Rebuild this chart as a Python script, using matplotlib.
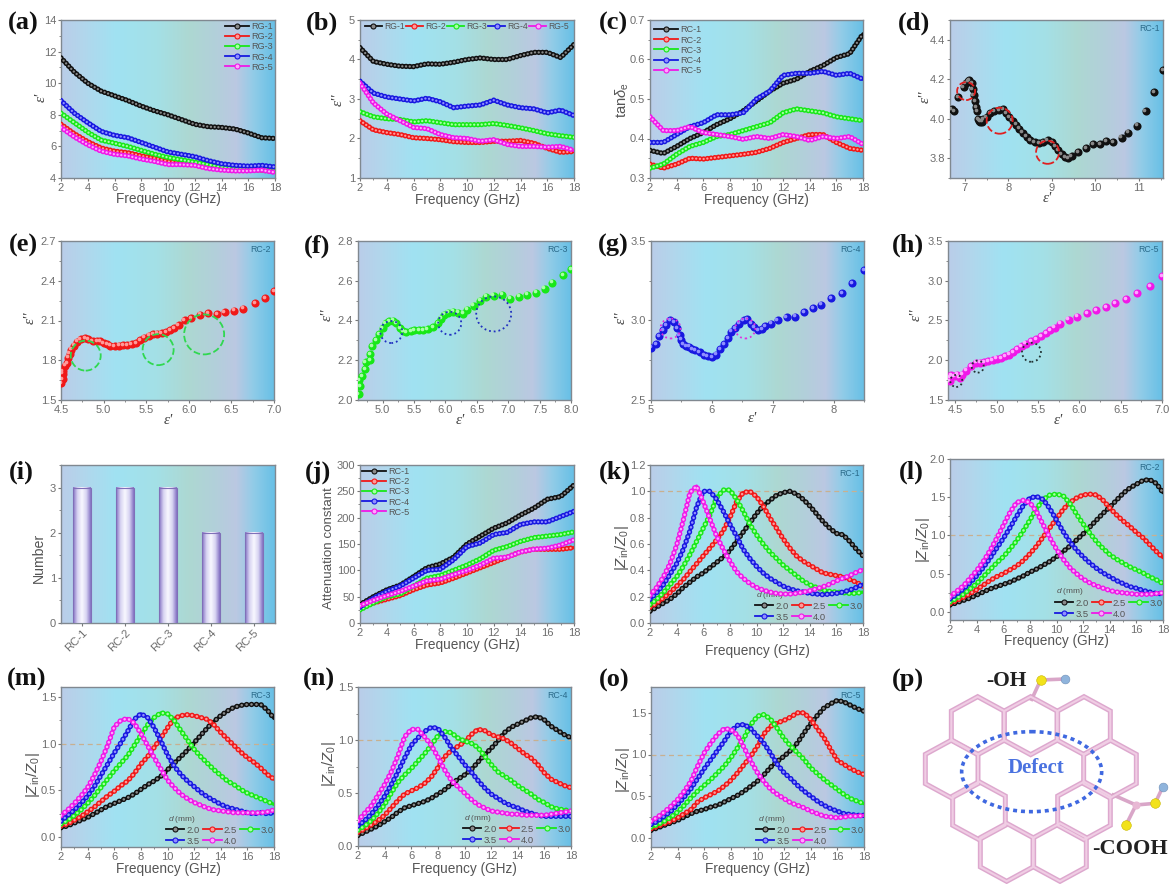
import numpy as np
import matplotlib
matplotlib.use('Agg')
import matplotlib.pyplot as plt
from matplotlib.colors import LinearSegmentedColormap
from matplotlib.patches import Polygon, Ellipse
from matplotlib.lines import Line2D
from matplotlib.ticker import AutoMinorLocator, MultipleLocator
from matplotlib.transforms import ScaledTranslation

plt.rcParams['font.family'] = ['Liberation Sans', 'DejaVu Sans']
plt.rcParams['mathtext.fontset'] = 'custom'
plt.rcParams['mathtext.rm'] = 'Liberation Sans'
plt.rcParams['mathtext.it'] = 'Liberation Sans:italic'
plt.rcParams['mathtext.bf'] = 'Liberation Sans:bold'

# ---------- data ----------
freq_1 = [2, 3, 4, 5, 6, 7, 8, 9, 10, 11, 12, 13, 14, 15, 16, 17, 18]
freq_05 = [2, 2.5, 3, 3.5, 4, 4.5, 5, 5.5, 6, 6.5, 7, 7.5, 8, 8.5, 9, 9.5, 10, 10.5, 11, 11.5, 12, 12.5, 13, 13.5,
           14, 14.5, 15, 15.5, 16, 16.5, 17, 17.5, 18]

a_1 = [11.6, 10.7, 10.0, 9.5, 9.2, 8.9, 8.55, 8.25, 8.0, 7.7, 7.4, 7.25, 7.2, 7.1, 6.85, 6.55, 6.5]
a_2 = [7.4, 6.8, 6.3, 5.9, 5.7, 5.6, 5.4, 5.25, 5.05, 4.95, 4.9, 4.7, 4.6, 4.5, 4.5, 4.5, 4.4]
a_3 = [8.1, 7.5, 6.9, 6.4, 6.2, 6.0, 5.75, 5.5, 5.3, 5.15, 5.0, 4.85, 4.7, 4.6, 4.55, 4.55, 4.45]
a_4 = [8.9, 8.1, 7.5, 6.95, 6.7, 6.55, 6.25, 5.95, 5.65, 5.5, 5.35, 5.1, 4.9, 4.8, 4.75, 4.8, 4.7]
a_5 = [7.2, 6.6, 6.1, 5.7, 5.5, 5.4, 5.2, 5.05, 4.85, 4.85, 4.8, 4.6, 4.5, 4.45, 4.45, 4.5, 4.35]

b_1 = [4.3, 3.95, 3.88, 3.83, 3.82, 3.89, 3.88, 3.93, 4.0, 4.04, 4.0, 4.0, 4.1, 4.18, 4.18, 4.05, 4.38]
b_2 = [2.45, 2.22, 2.15, 2.1, 2.02, 2.0, 1.97, 1.92, 1.9, 1.9, 1.93, 1.93, 1.95, 1.88, 1.75, 1.65, 1.67]
b_3 = [2.68, 2.55, 2.5, 2.48, 2.42, 2.45, 2.4, 2.35, 2.35, 2.35, 2.38, 2.33, 2.27, 2.2, 2.12, 2.07, 2.03]
b_4 = [3.45, 3.15, 3.05, 3.0, 2.95, 3.02, 2.93, 2.78, 2.82, 2.85, 2.97, 2.85, 2.78, 2.75, 2.65, 2.72, 2.58]
b_5 = [3.4, 2.9, 2.62, 2.45, 2.28, 2.25, 2.1, 2.02, 2.0, 1.93, 1.97, 1.85, 1.8, 1.8, 1.78, 1.8, 1.7]

c_1 = [.37, .362, .38, .40, .415, .435, .45, .47, .495, .52, .54, .55, .57, .585, .605, .615, .665]
c_2 = [.335, .325, .335, .35, .348, .352, .356, .36, .365, .375, .39, .40, .41, .41, .39, .375, .37]
c_3 = [.325, .335, .36, .38, .39, .405, .41, .42, .43, .44, .465, .475, .47, .465, .455, .45, .445]
c_4 = [.39, .39, .41, .43, .44, .46, .46, .465, .50, .52, .56, .565, .565, .57, .56, .565, .55]
c_5 = [.455, .42, .42, .43, .415, .41, .405, .398, .405, .40, .41, .405, .395, .405, .40, .405, .385]

j_1 = [35, 50, 63, 72, 88, 105, 112, 125, 150, 165, 180, 190, 205, 218, 235, 240, 262]
j_2 = [30, 38, 45, 52, 63, 72, 76, 85, 95, 105, 115, 125, 135, 140, 140, 140, 143]
j_3 = [25, 38, 50, 55, 70, 85, 90, 100, 110, 122, 138, 145, 155, 162, 165, 168, 173]
j_4 = [30, 47, 60, 70, 85, 100, 102, 120, 145, 152, 168, 172, 187, 192, 192, 202, 212]
j_5 = [33, 43, 52, 60, 70, 80, 83, 92, 100, 110, 123, 125, 135, 140, 142, 148, 158]

d_x = [6.7, 6.75, 6.85, 6.97, 7.02, 7.07, 7.1, 7.16, 7.18, 7.2, 7.23, 7.26, 7.28, 7.3, 7.33, 7.36, 7.39, 7.42, 7.5, 7.58,
       7.68, 7.78, 7.88, 7.95, 8.02, 8.1, 8.18, 8.25, 8.33, 8.42, 8.5, 8.6, 8.7, 8.8, 8.9, 9.0, 9.08, 9.15, 9.22, 9.3,
       9.38, 9.45, 9.6, 9.78, 9.95, 10.1, 10.25, 10.4, 10.6, 10.75, 10.95, 11.15, 11.35, 11.55]
d_y = [4.05, 4.04, 4.11, 4.16, 4.18, 4.19, 4.195, 4.18, 4.15, 4.12, 4.09, 4.06, 4.04, 4.0, 3.99, 3.985, 3.985, 4.0, 4.01, 4.03,
       4.04, 4.045, 4.05, 4.03, 4.01, 3.99, 3.97, 3.95, 3.93, 3.91, 3.89, 3.88, 3.875, 3.88, 3.89, 3.88, 3.86, 3.84, 3.82, 3.805,
       3.8, 3.81, 3.83, 3.85, 3.87, 3.87, 3.885, 3.88, 3.905, 3.93, 3.965, 4.04, 4.135, 4.245]
e_x = [4.5, 4.52, 4.52, 4.52, 4.55, 4.57, 4.58, 4.6, 4.62, 4.65, 4.69, 4.73, 4.78, 4.82, 4.87, 4.92, 4.96, 5.0, 5.04, 5.08,
       5.13, 5.18, 5.23, 5.28, 5.33, 5.38, 5.43, 5.48, 5.53, 5.58, 5.63, 5.68, 5.73, 5.78, 5.83, 5.88, 5.95, 6.03, 6.13, 6.23,
       6.33, 6.42, 6.53, 6.64, 6.78, 6.9, 7.0]
e_y = [1.63, 1.66, 1.70, 1.72, 1.76, 1.78, 1.82, 1.85, 1.88, 1.91, 1.94, 1.96, 1.965, 1.96, 1.945, 1.945, 1.945, 1.93, 1.92, 1.91,
       1.905, 1.91, 1.915, 1.915, 1.92, 1.93, 1.95, 1.97, 1.985, 1.995, 2.0, 2.005, 2.01, 2.025, 2.045, 2.065, 2.1, 2.12, 2.145, 2.155,
       2.15, 2.165, 2.175, 2.19, 2.23, 2.27, 2.32]
f_x = [4.62, 4.64, 4.63, 4.68, 4.72, 4.73, 4.8, 4.8, 4.84, 4.9, 4.95, 5.0, 5.05, 5.1, 5.17, 5.22, 5.28, 5.33, 5.38, 5.45,
       5.5, 5.58, 5.65, 5.72, 5.8, 5.88, 5.93, 5.98, 6.05, 6.12, 6.2, 6.28, 6.35, 6.45, 6.55, 6.65, 6.77, 6.9, 7.03, 7.17,
       7.3, 7.44, 7.58, 7.7, 7.87, 8.0]
f_y = [2.03, 2.07, 2.1, 2.12, 2.155, 2.19, 2.2, 2.23, 2.27, 2.3, 2.33, 2.36, 2.385, 2.395, 2.4, 2.385, 2.36, 2.345, 2.34, 2.345,
       2.35, 2.35, 2.35, 2.355, 2.365, 2.385, 2.41, 2.43, 2.44, 2.445, 2.44, 2.435, 2.455, 2.475, 2.5, 2.52, 2.525, 2.53, 2.51, 2.52,
       2.53, 2.54, 2.56, 2.59, 2.63, 2.66]
g_x = [5.0, 5.08, 5.13, 5.2, 5.25, 5.31, 5.38, 5.43, 5.47, 5.49, 5.53, 5.58, 5.63, 5.68, 5.73, 5.8, 5.87, 5.93, 6.0, 6.07,
       6.14, 6.2, 6.27, 6.32, 6.38, 6.45, 6.52, 6.58, 6.65, 6.7, 6.76, 6.82, 6.88, 6.97, 7.08, 7.23, 7.37, 7.52, 7.67, 7.8,
       7.96, 8.14, 8.31, 8.5]
g_y = [2.83, 2.85, 2.9, 2.94, 2.97, 3.0, 2.99, 2.95, 2.91, 2.88, 2.85, 2.84, 2.835, 2.82, 2.815, 2.8, 2.78, 2.775, 2.77, 2.785,
       2.82, 2.85, 2.89, 2.93, 2.95, 2.98, 3.0, 3.01, 2.98, 2.96, 2.94, 2.945, 2.965, 2.98, 3.0, 3.02, 3.025, 3.055, 3.08, 3.1,
       3.14, 3.17, 3.235, 3.315]
h_x = [4.43, 4.44, 4.45, 4.49, 4.52, 4.55, 4.58, 4.63, 4.69, 4.75, 4.8, 4.85, 4.9, 4.95, 5.0, 5.05, 5.1, 5.15, 5.2, 5.25,
       5.3, 5.35, 5.42, 5.48, 5.54, 5.6, 5.65, 5.7, 5.77, 5.87, 5.97, 6.09, 6.2, 6.32, 6.43, 6.57, 6.7, 6.86, 7.0]
h_y = [1.74, 1.78, 1.81, 1.8, 1.82, 1.78, 1.82, 1.87, 1.93, 1.97, 1.97, 1.98, 1.99, 2.0, 2.02, 2.03, 2.05, 2.07, 2.1, 2.14,
       2.18, 2.21, 2.24, 2.27, 2.3, 2.34, 2.38, 2.41, 2.46, 2.51, 2.55, 2.59, 2.63, 2.67, 2.72, 2.77, 2.84, 2.93, 3.06]

i_names = ['RC-1', 'RC-2', 'RC-3', 'RC-4', 'RC-5']
i_number = [3, 3, 3, 2, 2]

k_20 = [.09, .12, .15, .18, .22, .27, .31, .35, .38, .42, .46, .50, .55, .62, .69, .76, .83, .89, .93, .97, .99, 1.0, .98, .94, .89, .83, .77, .72, .68, .67, .62, .56, .51]
k_25 = [.12, .15, .19, .23, .28, .33, .39, .45, .51, .57, .63, .70, .80, .92, .99, 1.0, .96, .89, .80, .72, .64, .57, .51, .47, .44, .41, .38, .37, .36, .35, .33, .31, .28]
k_30 = [.14, .18, .23, .29, .35, .43, .52, .62, .72, .82, .95, 1.01, 1.01, .94, .85, .75, .67, .6, .54, .49, .44, .4, .36, .32, .29, .27, .25, .24, .235, .23, .225, .225, .235]
k_35 = [.18, .23, .29, .37, .45, .56, .70, .88, 1.0, 1.0, .94, .85, .75, .66, .56, .49, .43, .38, .34, .31, .28, .26, .245, .235, .225, .22, .215, .22, .225, .235, .25, .27, .295]
k_40 = [.21, .27, .35, .45, .59, .78, .99, 1.04, .92, .79, .66, .56, .47, .39, .34, .30, .27, .25, .235, .225, .22, .22, .225, .235, .245, .26, .275, .295, .32, .34, .36, .385, .405]

l_20 = [.09, .12, .15, .18, .22, .26, .30, .33, .36, .39, .43, .47, .52, .56, .61, .66, .72, .79, .86, .94, 1.02, 1.11, 1.2, 1.29, 1.37, 1.46, 1.55, 1.62, 1.67, 1.72, 1.73, 1.68, 1.56]
l_25 = [.11, .15, .19, .24, .29, .35, .41, .46, .5, .55, .6, .67, .76, .86, .98, 1.1, 1.22, 1.34, 1.43, 1.49, 1.53, 1.54, 1.53, 1.46, 1.36, 1.27, 1.19, 1.12, 1.04, .97, .88, .79, .71]
l_30 = [.13, .18, .23, .3, .37, .46, .55, .64, .72, .82, .93, 1.06, 1.2, 1.35, 1.47, 1.53, 1.54, 1.52, 1.42, 1.28, 1.15, 1.03, .92, .83, .75, .69, .64, .59, .55, .51, .46, .42, .37]
l_35 = [.17, .23, .3, .38, .47, .58, .7, .83, .96, 1.1, 1.25, 1.39, 1.49, 1.51, 1.47, 1.35, 1.2, 1.05, .92, .81, .72, .64, .57, .51, .46, .41, .37, .33, .31, .28, .26, .24, .24]
l_40 = [.2, .27, .34, .44, .54, .66, .8, .96, 1.13, 1.3, 1.43, 1.46, 1.43, 1.31, 1.14, .97, .82, .69, .58, .5, .43, .38, .34, .31, .28, .26, .25, .24, .23, .23, .23, .24, .25]

m_20 = [.1, .12, .15, .18, .21, .25, .29, .33, .36, .39, .42, .46, .51, .56, .6, .65, .72, .79, .86, .93, 1.01, 1.09, 1.17, 1.24, 1.3, 1.35, 1.39, 1.41, 1.42, 1.42, 1.42, 1.36, 1.27]
m_25 = [.12, .14, .18, .22, .27, .32, .38, .44, .49, .55, .6, .68, .78, .86, .96, 1.06, 1.17, 1.27, 1.3, 1.31, 1.3, 1.28, 1.26, 1.2, 1.12, 1.05, .98, .91, .85, .8, .74, .67, .62]
m_30 = [.14, .18, .23, .29, .36, .44, .53, .62, .71, .79, .87, .98, 1.09, 1.2, 1.28, 1.33, 1.32, 1.25, 1.14, 1.04, .94, .86, .79, .72, .66, .6, .56, .51, .47, .44, .41, .38, .35]
m_35 = [.17, .23, .29, .36, .44, .54, .66, .78, .9, 1.01, 1.13, 1.26, 1.32, 1.28, 1.17, 1.03, .88, .76, .67, .6, .54, .48, .43, .39, .35, .32, .3, .28, .26, .25, .26, .25, .26]
m_40 = [.23, .29, .36, .44, .53, .66, .81, .98, 1.18, 1.25, 1.27, 1.22, 1.11, .98, .85, .73, .61, .53, .46, .41, .37, .34, .31, .29, .28, .27, .26, .26, .26, .26, .26, .27, .29]

n_20 = [.1, .13, .16, .19, .23, .27, .32, .36, .38, .4, .42, .45, .49, .53, .58, .63, .67, .72, .79, .86, .92, .99, 1.07, 1.12, 1.15, 1.18, 1.21, 1.22, 1.19, 1.13, 1.09, 1.05, 1.02]
n_25 = [.13, .16, .2, .24, .29, .36, .43, .49, .52, .55, .59, .65, .74, .84, .9, .94, .98, 1.05, 1.1, 1.09, 1.05, 1.03, 1.01, .97, .92, .87, .83, .77, .69, .63, .6, .57, .55]
n_30 = [.15, .19, .24, .31, .39, .5, .6, .67, .73, .8, .87, .95, 1.04, 1.08, 1.07, 1.02, .99, .97, .93, .85, .77, .7, .66, .62, .57, .53, .49, .44, .41, .37, .35, .34, .33]
n_35 = [.19, .24, .3, .38, .47, .58, .7, .83, .95, 1.02, 1.08, 1.12, 1.11, 1.03, .93, .85, .77, .7, .62, .55, .49, .45, .41, .38, .36, .33, .31, .29, .28, .28, .28, .28, .28]
n_40 = [.24, .31, .38, .48, .58, .7, .85, 1.03, 1.1, 1.1, 1.03, .95, .84, .72, .62, .56, .5, .44, .39, .36, .33, .32, .31, .3, .3, .29, .29, .29, .29, .3, .31, .32, .33]

o_20 = [.09, .12, .15, .18, .21, .25, .29, .32, .34, .37, .39, .43, .47, .51, .56, .62, .68, .76, .85, .92, .98, 1.05, 1.14, 1.26, 1.37, 1.47, 1.56, 1.61, 1.65, 1.63, 1.59, 1.55, 1.52]
o_25 = [.11, .14, .17, .2, .24, .29, .34, .43, .48, .52, .56, .62, .69, .78, .88, .98, 1.1, 1.25, 1.34, 1.38, 1.41, 1.45, 1.5, 1.5, 1.42, 1.31, 1.2, 1.06, .93, .88, .83, .79, .76]
o_30 = [.13, .16, .2, .25, .31, .39, .48, .56, .63, .7, .78, .86, .96, 1.08, 1.2, 1.36, 1.46, 1.48, 1.42, 1.31, 1.19, 1.1, 1.02, .94, .84, .77, .7, .64, .58, .52, .47, .44, .41]
o_35 = [.16, .2, .26, .32, .4, .49, .59, .71, .83, .94, 1.05, 1.16, 1.28, 1.35, 1.36, 1.31, 1.22, 1.13, 1.01, .88, .78, .71, .63, .56, .5, .44, .39, .35, .32, .29, .28, .27, .27]
o_40 = [.2, .25, .31, .38, .46, .56, .68, .86, 1.02, 1.14, 1.24, 1.31, 1.3, 1.23, 1.08, .92, .78, .67, .58, .52, .47, .42, .39, .36, .32, .29, .26, .25, .24, .25, .26, .26, .27]

d_labels = ['2.0', '2.5', '3.0', '3.5', '4.0']
rg_labels = ['RG-1', 'RG-2', 'RG-3', 'RG-4', 'RG-5']
rc_labels = ['RC-1', 'RC-2', 'RC-3', 'RC-4', 'RC-5']

# ---------- style ----------
W, H = 1174, 884
COLS = ['#111111', '#F01818', '#18E818', '#1818E0', '#F018E8']
LIGHT = ['#8A8A8A', '#FF9A9A', '#A8FFA8', '#9090FF', '#FFA8FF']
GREY = '#6E6E6E'
bg = LinearSegmentedColormap.from_list('bg', [(0, '#BACDE9'), (.1, '#B2D6EC'), (.26, '#A0E2F2'), (.45, '#A4E0E6'),
                                              (.6, '#ADD8D2'), (.72, '#B2D0DA'), (.82, '#BBC8E2'), (.9, '#92CCE8'), (1, '#68C0E6')])
fig = plt.figure(figsize=(W / 100, H / 100), dpi=100)


def make_ax(l, t, r, b, xlim, ylim, xmaj=2, ymaj=None):
    ax = fig.add_axes([l / W, 1 - b / H, (r - l) / W, (b - t) / H])
    ax.imshow(np.linspace(0, 1, 256)[None, :], cmap=bg, extent=(0, 1, 0, 1), transform=ax.transAxes,
              aspect='auto', zorder=0, interpolation='bilinear')
    ax.set_xlim(*xlim)
    ax.set_ylim(*ylim)
    ax.xaxis.set_major_locator(MultipleLocator(xmaj))
    if ymaj:
        ax.yaxis.set_major_locator(MultipleLocator(ymaj))
    ax.xaxis.set_minor_locator(AutoMinorLocator(2))
    ax.yaxis.set_minor_locator(AutoMinorLocator(2))
    ax.tick_params(which='major', length=2.5, width=.8, color='#777777', labelcolor=GREY, labelsize=8, pad=1)
    ax.tick_params(which='minor', length=1.5, width=.6, color='#777777')
    for s in ax.spines.values():
        s.set_color('#808890')
        s.set_linewidth(1.0)
    return ax


def put(x, y, s, **kw):
    return fig.text(x / W, 1 - y / H, s, ha='center', va='center', **kw)


def panel(x, y, s):
    put(x, y, s, family='Liberation Serif', weight='bold', fontsize=19, color='#111111')


def xlab(x, y):
    put(x, y, 'Frequency (GHz)', fontsize=9.8, color='#555555')


def eps(x, y, s, rot=0):
    put(x, y, s, family='Liberation Serif', style='italic', fontsize=11, color='#444444', rotation=rot)


def ylab(x, y, s, size=10.2):
    put(x, y, s, fontsize=size, color='#555555', rotation=90)


def beads(ax, x, y, i, zo, wide=3.9, gap=0.68, lw_in=1.7):
    ax.plot(x, y, color=COLS[i], lw=wide * .6, zorder=zo, solid_capstyle='round')
    ax.plot(x, y, color=COLS[i], lw=wide, ls=(0, (0.01, gap)), dash_capstyle='round', zorder=zo)
    ax.plot(x, y, color=LIGHT[i], lw=lw_in, ls=(0, (0.01, (gap + .01) * wide / lw_in - .01)), dash_capstyle='round', zorder=zo)


def handles(labels, ms=3.6):
    return [Line2D([], [], color=COLS[i], lw=1.3, marker='o', ms=ms, mfc=LIGHT[i], mec=COLS[i], mew=.8)
            for i in range(len(labels))]


def band_panel(ax, series, labels, size=6.6, hl=2.3, **leg):
    for i, v in enumerate(series):
        beads(ax, freq_1, v, i, 3 + i)
    ax.legend(handles(labels), labels, frameon=False, fontsize=size, labelcolor='#555555', handlelength=hl,
              handletextpad=.25, labelspacing=.12, borderpad=.15, borderaxespad=.1, **leg)


def z_panel(ax, series, tag, tx, ty):
    ax.axhline(1.0, color='#C8B090', lw=.9, ls=(0, (4, 3)), zorder=1)
    for i, v in enumerate(series):
        beads(ax, freq_05, v, i, 3 + i, wide=3.9, gap=.9, lw_in=1.9)
    ax.text(.985, .975, tag, transform=ax.transAxes, ha='right', va='top', fontsize=6.3, color='#2A6A8A')
    order = [0, 3, 1, 4, 2]
    h = handles(d_labels)
    ax.legend([h[n] for n in order], [d_labels[n] for n in order], ncol=3, frameon=False, fontsize=6.8,
              labelcolor='#555555', handlelength=2.0, handletextpad=.2, labelspacing=.2, columnspacing=.35,
              loc='lower right', bbox_to_anchor=(1.005, .003), borderpad=.1, borderaxespad=0)
    ax.text(tx, ty, r'$\mathit{d}$ (mm)', transform=ax.transAxes, fontsize=6, color='#555555')


def sphere_panel(ax, x, y, i, tag, circles, cc, ls):
    ax.scatter(x, y, s=34, color=COLS[i], zorder=4, linewidths=0, clip_on=True)
    ax.scatter(x, y, s=7, color=LIGHT[i], zorder=5, linewidths=0,
               transform=ax.transData + ScaledTranslation(-.9 / 72, .9 / 72, fig.dpi_scale_trans))
    for cx, cy, dia in circles:
        ax.scatter([cx], [cy], s=(dia * .72) ** 2, facecolors='none', edgecolors=cc, linewidths=1.3, linestyles=ls, zorder=6)
    ax.text(.985, .975, tag, transform=ax.transAxes, ha='right', va='top', fontsize=6.3, color='#2A6A8A')


# ---------- (a) (b) (c) ----------
ax = make_ax(61, 20, 275, 178, (2, 18), (4, 14), ymaj=2)
band_panel(ax, [a_1, a_2, a_3, a_4, a_5], rg_labels, hl=2.6, loc='upper right')
panel(23, 23, '(a)'); xlab(168, 199); eps(41, 97, "ε'", 90)

ax = make_ax(360, 20, 574, 178, (2, 18), (1, 5), ymaj=1)
band_panel(ax, [b_1, b_2, b_3, b_4, b_5], rg_labels, size=6.2, hl=2.0, loc='upper center', ncol=5, columnspacing=.12,
           bbox_to_anchor=(.5, 1.0))
panel(322, 23, '(b)'); xlab(467, 200); eps(338, 100, "ε''", 90)

ax = make_ax(650, 20, 863, 178, (2, 18), (.3, .7), ymaj=.1)
band_panel(ax, [c_1, c_2, c_3, c_4, c_5], rc_labels, hl=2.6, loc='upper left', bbox_to_anchor=(.01, .98))
panel(613, 23, '(c)'); xlab(756, 200)
ylab(622, 100, r'tan$\mathit{\delta}_{\mathrm{e}}$', 10.6)

# ---------- (d)-(h) ----------
ax = make_ax(950, 20, 1163, 178, (6.66, 11.55), (3.7, 4.5), xmaj=1, ymaj=.2)
sphere_panel(ax, d_x, d_y, 0, 'RC-1', [(7.03, 4.14, 18), (7.8, 3.99, 26), (8.9, 3.83, 23)], '#E02020', '--')
panel(914, 23, '(d)'); eps(1047, 199, "ε'"); eps(925, 97, "ε''", 90)

ax = make_ax(61, 241, 274, 400, (4.5, 7), (1.5, 2.7), xmaj=.5, ymaj=.3)
sphere_panel(ax, e_x, e_y, 1, 'RC-2', [(4.79, 1.835, 30), (5.64, 1.88, 31), (6.18, 1.995, 40)], '#30D850', '--')
panel(23, 245, '(e)'); eps(168, 421, "ε'"); eps(30, 318, "ε''", 90)

ax = make_ax(358, 241, 571, 400, (4.61, 8), (2.0, 2.8), xmaj=.5, ymaj=.2)
sphere_panel(ax, f_x, f_y, 2, 'RC-3', [(5.14, 2.342, 22), (6.07, 2.386, 23), (6.77, 2.433, 35)], '#2030C0', ':')
panel(317, 246, '(f)'); eps(460, 421, "ε'"); eps(327, 315, "ε''", 90)

ax = make_ax(651, 241, 864, 400, (5, 8.5), (2.5, 3.5), xmaj=1, ymaj=.5)
sphere_panel(ax, g_x, g_y, 3, 'RC-4', [(5.32, 2.95, 20), (6.55, 2.95, 20)], '#E030E0', ':')
panel(613, 245, '(g)'); eps(752, 419, "ε'"); eps(621, 318, "ε''", 90)

ax = make_ax(948, 241, 1162, 400, (4.41, 7), (1.5, 3.5), xmaj=.5, ymaj=.5)
sphere_panel(ax, h_x, h_y, 4, 'RC-5', [(4.51, 1.74, 12), (4.77, 1.92, 12), (5.42, 2.1, 19)], '#203030', ':')
panel(908, 245, '(h)'); eps(1058, 421, "ε'"); eps(916, 315, "ε''", 90)

# ---------- (i) ----------
ax = make_ax(61, 465, 275, 623, (-.5, 4.5), (0, 3.5), xmaj=1, ymaj=1)
bars = ax.bar(range(len(i_number)), i_number, width=.42, facecolor='none', edgecolor='#8070B8', linewidth=.8, zorder=4)
bar_cm = LinearSegmentedColormap.from_list('b', ['#8472C4', '#D8D4F2', '#F8F8FF', '#D8D4F2', '#8472C4'])
for p in bars:
    ax.imshow(np.linspace(0, 1, 64)[None, :], cmap=bar_cm, aspect='auto', zorder=3,
              extent=(p.get_x(), p.get_x() + p.get_width(), 0, p.get_height()))
ax.set_xlim(-.5, 4.5); ax.set_ylim(0, 3.5)
ax.xaxis.set_minor_locator(plt.NullLocator())
ax.set_xticks(range(len(i_names)))
ax.set_xticklabels(i_names, rotation=45, ha='right', rotation_mode='anchor', fontsize=8.2)
panel(21, 472, '(i)'); ylab(39, 558, 'Number')

# ---------- (j) ----------
ax = make_ax(360, 465, 574, 623, (2, 18), (0, 300), ymaj=50)
band_panel(ax, [j_1, j_2, j_3, j_4, j_5], rc_labels, hl=2.6, loc='upper left')
panel(318, 472, '(j)'); xlab(467, 645); ylab(329, 548, 'Attenuation constant', 9.6)

# ---------- (k)-(o) ----------
zlab_n = r'|$\mathit{Z}_{\mathrm{in}}/\mathit{Z}_{\mathrm{0}}$|'
ax = make_ax(650, 465, 863, 623, (2, 18), (0, 1.2), ymaj=.2)
z_panel(ax, [k_20, k_25, k_30, k_35, k_40], 'RC-1', .5, .165)
panel(615, 472, '(k)'); xlab(757, 651); ylab(622, 548, zlab_n, 10.8)

ax = make_ax(950, 459, 1163, 620, (2, 18), (-.106, 2.0), ymaj=.5)
z_panel(ax, [l_20, l_25, l_30, l_35, l_40], 'RC-2', .5, .165)
panel(911, 472, '(l)'); xlab(1056, 641); ylab(923, 540, zlab_n, 10.8)

ax = make_ax(61, 687, 274, 847, (2, 18), (-.107, 1.607), ymaj=.5)
z_panel(ax, [m_20, m_25, m_30, m_35, m_40], 'RC-3', .5, .165)
panel(27, 679, '(m)'); xlab(168, 869); ylab(33, 775, zlab_n, 10.8)

ax = make_ax(358, 687, 571, 846, (2, 18), (0, 1.5), ymaj=.5)
z_panel(ax, [n_20, n_25, n_30, n_35, n_40], 'RC-4', .5, .165)
panel(319, 679, '(n)'); xlab(464, 869); ylab(329, 764, zlab_n, 10.8)

ax = make_ax(651, 687, 864, 847, (2, 18), (-.11, 1.81), ymaj=.5)
z_panel(ax, [o_20, o_25, o_30, o_35, o_40], 'RC-5', .5, .165)
panel(614, 680, '(o)'); xlab(757, 869); ylab(623, 770, zlab_n, 10.8)

# ---------- (p) illustration ----------
ax = fig.add_axes([880 / W, 1 - 884 / H, 294 / W, 224 / H])
ax.set_xlim(0, 882); ax.set_ylim(672, 0); ax.axis('off')
hexes = [(293, 197), (452, 197), (612, 197), (215, 327), (690, 327), (297, 452), (612, 452), (380, 577), (540, 577)]
for cx, cy in hexes:
    pts = [(cx, cy - 87), (cx + 79, cy - 44), (cx + 79, cy + 44), (cx, cy + 87), (cx - 79, cy + 44), (cx - 79, cy - 44)]
    ax.add_patch(Polygon(pts, closed=True, fill=False, edgecolor='#DDA8CE', lw=3.6, joinstyle='miter', zorder=2))
    ax.add_patch(Polygon(pts, closed=True, fill=False, edgecolor='#F0CDE4', lw=1.5, joinstyle='miter', zorder=3))
ax.add_patch(Ellipse((455, 335), 420, 240, fill=False, edgecolor='#3F68E0', lw=2.6, ls=(0, (1.1, 1.1)), zorder=4))
ax.plot([455, 482, 555], [118, 60, 57], color='#D9A6C8', lw=2.6, zorder=2)
ax.plot([700, 768, 825, 848], [405, 435, 430, 382], color='#D9A6C8', lw=2.6, zorder=2)
ax.plot([768, 738], [435, 495], color='#D9A6C8', lw=2.6, zorder=2)
ax.scatter([482, 825, 738], [60, 430, 495], s=48, color='#F2E21A', edgecolors='#C8B800', linewidths=.4, zorder=5)
ax.scatter([555, 848], [57, 382], s=40, color='#8FB4DC', edgecolors='#7090B8', linewidths=.4, zorder=5)
ax.scatter([768], [435], s=34, color='#E8B8D4', zorder=5, linewidths=0)
ax.text(378, 62, '-OH', family='Liberation Serif', weight='bold', fontsize=15.5, color='#222222', ha='center', va='center')
ax.text(468, 325, 'Defect', family='Liberation Serif', weight='bold', fontsize=15, color='#4A72E0', ha='center', va='center')
ax.text(750, 568, '-COOH', family='Liberation Serif', weight='bold', fontsize=16, color='#222222', ha='center', va='center')
panel(908, 680, '(p)')

fig.savefig('out.png', dpi=100, facecolor='white')
